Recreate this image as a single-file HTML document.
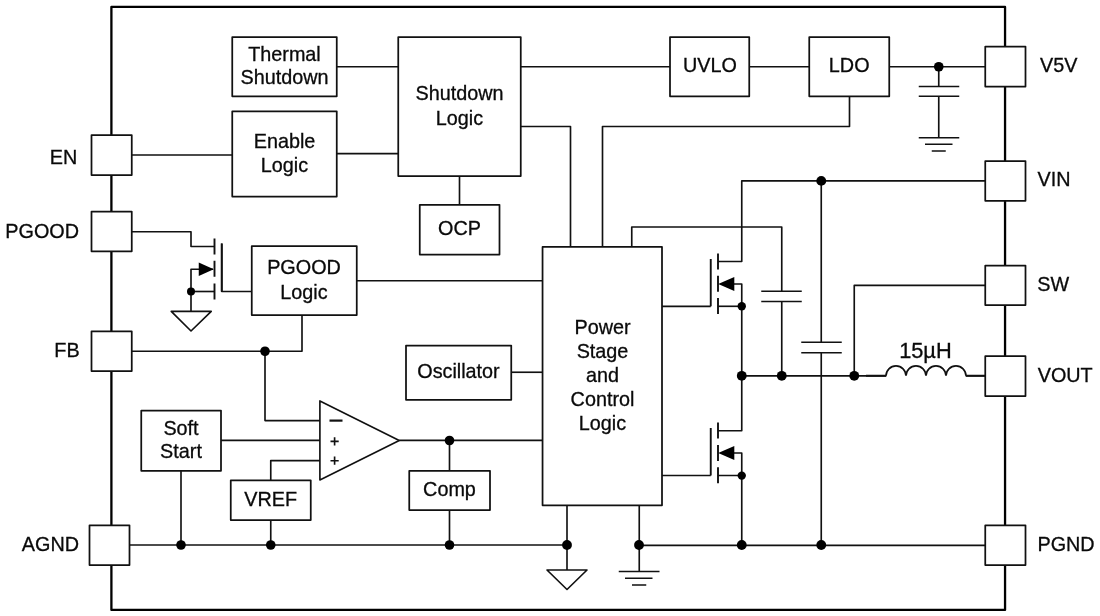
<!DOCTYPE html>
<html><head><meta charset="utf-8">
<style>
html,body{margin:0;padding:0;background:#fff;}
body{width:1100px;height:616px;overflow:hidden;}
svg{display:block;will-change:transform;}
text{font-family:"Liberation Sans",sans-serif;font-size:19.8px;fill:#0a0a0a;stroke:#0a0a0a;stroke-width:0.3;}
.c{text-anchor:middle;}
.l{fill:none;stroke:#111;stroke-width:1.65;stroke-linejoin:round;}
.b{fill:#fff;stroke:#111;stroke-width:1.75;stroke-linejoin:round;}
.o{fill:none;stroke:#000;stroke-width:2.3;stroke-linejoin:round;}
.d{fill:#000;stroke:none;}
.k{fill:none;stroke:#111;stroke-width:1.9;}
.p{fill:none;stroke:#111;stroke-width:1.6;}
</style></head><body>
<svg width="1100" height="616" viewBox="0 0 1100 616">
<rect width="1100" height="616" fill="#fff"/>
<!-- outer border -->
<rect class="o" x="111.4" y="6.9" width="893.65" height="603.05"/>

<!-- wires -->
<g class="l">
<path d="M336.75 66.75H398.25"/>
<path d="M520.75 66.75H670"/>
<path d="M749.25 66.75H809.25"/>
<path d="M889.25 66.75H985.25"/>
<path d="M938.75 66.75V86.5M938.75 96.25V137.75"/>
<path d="M849.5 96.25V126.5H602.5V246.9"/>
<path d="M520.75 126.5H570.5V246.9"/>
<path d="M131.75 155H232.25M336.75 153.6H398.25"/>
<path d="M459.5 176V204.75"/>
<!-- PGOOD fet -->
<path d="M131.75 231.7H191V246.5H214.5"/>
<path d="M221.75 243.5V291.5H252"/>
<path d="M213 269.25H191V311.4"/>
<path d="M191 291.5H214.5"/>
<path d="M356.75 280.75H542.75"/>
<!-- FB -->
<path d="M131.75 351.25H302V315"/>
<path d="M265 351.25V420.6H320"/>
<path d="M221 440.3H320"/>
<path d="M270.75 480V460.6H320"/>
<path d="M399.25 440.4H542.75"/>
<path d="M449.5 440.5V470.75M449.5 510V545"/>
<path d="M511.25 372.25H542.75"/>
<path d="M181 470.75V545"/>
<path d="M270.75 520V545"/>
<path d="M129.5 545H567"/>
<path d="M567 505.25V570"/>
<path d="M639.25 505.25V571.5"/>
<path d="M639.25 545.3H985.25"/>
<!-- VIN -->
<path d="M985.25 180.9H741.75V261.5H718"/>
<path d="M821.25 180.9V342.25M821.25 352.75V545"/>
<path d="M631.75 246.9V227H781.75V291.25M781.75 301.5V375.5"/>
<!-- high side -->
<path d="M662 306.3H710.75"/>
<path d="M734 284H741.75V306.3"/>
<path d="M718 306.3H741.75"/>
<path d="M741.75 306.3V430.75H718"/>
<path d="M741.75 375.8H886"/>
<path d="M966 375.8H985.25"/>
<path d="M854.25 375.8V285.3H985.25"/>
<!-- low side -->
<path d="M662 475.5H710.75"/>
<path d="M734 453H741.75V475.5"/>
<path d="M718 475.5H741.75V545"/>
</g>

<!-- fet plates -->
<g class="k">
<path d="M214.5 238.6V254.5M214.5 260.8V276.8M214.5 283.4V299.4"/>
<path d="M221.75 243.5V291.5"/>
<path d="M718 253.4V269.4M718 275.7V291.7M718 298V314"/>
<path d="M710.75 259V306.3"/>
<path d="M718 422.6V438.6M718 444.9V460.9M718 467.2V483.2"/>
<path d="M710.75 428V475.5"/>
</g>
<!-- arrows -->
<path class="d" d="M213.75 269.25L198.75 262.5V276Z"/>
<path class="d" d="M718.2 284L734.3 277V291Z"/>
<path class="d" d="M718.2 453L734.3 446V460Z"/>

<!-- caps and grounds -->
<g class="p">
<path d="M918.75 86.5H959.25M918.75 96.25H959.25"/>
<path d="M918.75 137.75H959.25M925 144.25H952.5M931.75 151H945.75"/>
<path d="M761.25 291.25H801.75M761.25 301.5H801.75"/>
<path d="M801.25 342.25H841.75M801.25 352.75H841.75"/>
<path d="M618.75 571.5H659.5M625 578.25H652.5M632 585H646.25"/>
</g>
<g class="l">
<path d="M171.25 311.4H211.25L191 331Z"/>
<path d="M547 570H587L567 589.5Z"/>
<path d="M319.9 400.9V480L399.25 440.4Z"/>
</g>
<!-- inductor -->
<path class="k" style="stroke-width:1.65" d="M886 375.8A10 9.9 0 0 1 906 375.8A10 9.9 0 0 1 926 375.8A10 9.9 0 0 1 946 375.8A10 9.9 0 0 1 966 375.8"/>

<path class="k" style="stroke-width:2" d="M866 375.8H886.4M965.6 375.8H985"/>
<!-- opamp signs -->
<path class="k" style="stroke-width:2.2" d="M329.5 420.6H342.5"/>
<path class="l" d="M330.5 441.3H338.7M334.6 437.2V445.4M330.5 460.7H338.7M334.6 456.6V464.8"/>

<!-- boxes -->
<g class="b">
<rect x="232.25" y="37" width="104.5" height="59.25"/>
<rect x="232.25" y="111.25" width="104.5" height="85.25"/>
<rect x="398.25" y="37" width="122.5" height="139"/>
<rect x="670" y="37" width="79.25" height="59.25"/>
<rect x="809.25" y="37" width="80" height="59.25"/>
<rect x="419.75" y="204.75" width="79.75" height="49.75"/>
<rect x="251.75" y="246" width="105" height="69"/>
<rect x="542.55" y="246.9" width="119.45" height="258.35"/>
<rect x="406" y="345.5" width="105.25" height="54.25"/>
<rect x="141.25" y="410.5" width="79.75" height="60.25"/>
<rect x="230.75" y="480.3" width="80" height="39.7"/>
<rect x="409.25" y="470.75" width="80.75" height="39.25"/>
<!-- pins -->
<rect x="91.5" y="135" width="40.25" height="40"/>
<rect x="91.5" y="211.6" width="40.25" height="39.7"/>
<rect x="91.5" y="331.25" width="40.25" height="39.75"/>
<rect x="89.5" y="525.25" width="40" height="39.75"/>
<rect x="985.25" y="46.5" width="40.25" height="40"/>
<rect x="985.25" y="161" width="40.25" height="39.75"/>
<rect x="985.25" y="265.6" width="40.25" height="39.4"/>
<rect x="985.25" y="356.2" width="40.25" height="39.8"/>
<rect x="985.25" y="525.3" width="40.25" height="39.7"/>
</g>

<!-- dots -->
<g class="d">
<circle cx="938.75" cy="66.75" r="4.8"/>
<circle cx="821.25" cy="180.9" r="4.9"/>
<circle cx="191" cy="291.5" r="4"/>
<circle cx="265" cy="351.25" r="4.8"/>
<circle cx="449.5" cy="440.5" r="4.8"/>
<circle cx="181" cy="545" r="4.8"/>
<circle cx="270.75" cy="545" r="4.8"/>
<circle cx="449.5" cy="545" r="4.8"/>
<circle cx="567" cy="545" r="4.9"/>
<circle cx="639" cy="545" r="4.9"/>
<circle cx="741.75" cy="545" r="4.9"/>
<circle cx="821.25" cy="545" r="4.9"/>
<circle cx="741.75" cy="306.3" r="4.2"/>
<circle cx="741.75" cy="475.6" r="4.2"/>
<circle cx="741.75" cy="375.8" r="4.9"/>
<circle cx="781.75" cy="375.8" r="4.9"/>
<circle cx="854.25" cy="375.8" r="4.9"/>
</g>

<!-- text -->
<text class="c" x="284.5" y="60.75">Thermal</text>
<text class="c" x="284.5" y="83.75">Shutdown</text>
<text class="c" x="284.5" y="147.7">Enable</text>
<text class="c" x="284.5" y="171.5">Logic</text>
<text class="c" x="459.5" y="100">Shutdown</text>
<text class="c" x="459.5" y="124.6">Logic</text>
<text class="c" x="710" y="71.8">UVLO</text>
<text class="c" x="849.2" y="71.5">LDO</text>
<text class="c" x="459.5" y="235.4">OCP</text>
<text class="c" x="304" y="274.2">PGOOD</text>
<text class="c" x="304" y="298.5">Logic</text>
<text class="c" x="458.5" y="377.8">Oscillator</text>
<text class="c" x="602.5" y="333.75">Power</text>
<text class="c" x="602.5" y="357.5">Stage</text>
<text class="c" x="602.5" y="382">and</text>
<text class="c" x="602.5" y="405.5">Control</text>
<text class="c" x="602.5" y="429.7">Logic</text>
<text class="c" x="181" y="434.8">Soft</text>
<text class="c" x="181" y="458.3">Start</text>
<text class="c" x="270.75" y="506">VREF</text>
<text class="c" x="449.5" y="496.3">Comp</text>
<text class="c" x="925.4" y="358.1" style="font-size:21.8px">15µH</text>
<text text-anchor="end" x="77.2" y="163.9">EN</text>
<text text-anchor="end" x="79" y="237.8">PGOOD</text>
<text text-anchor="end" x="79.6" y="357">FB</text>
<text text-anchor="end" x="79" y="550.75">AGND</text>
<text x="1040.1" y="71.85">V5V</text>
<text x="1037.5" y="186.35">VIN</text>
<text x="1037.2" y="291">SW</text>
<text x="1037.7" y="381.6">VOUT</text>
<text x="1037.5" y="550.75">PGND</text>
</svg>
</body></html>
